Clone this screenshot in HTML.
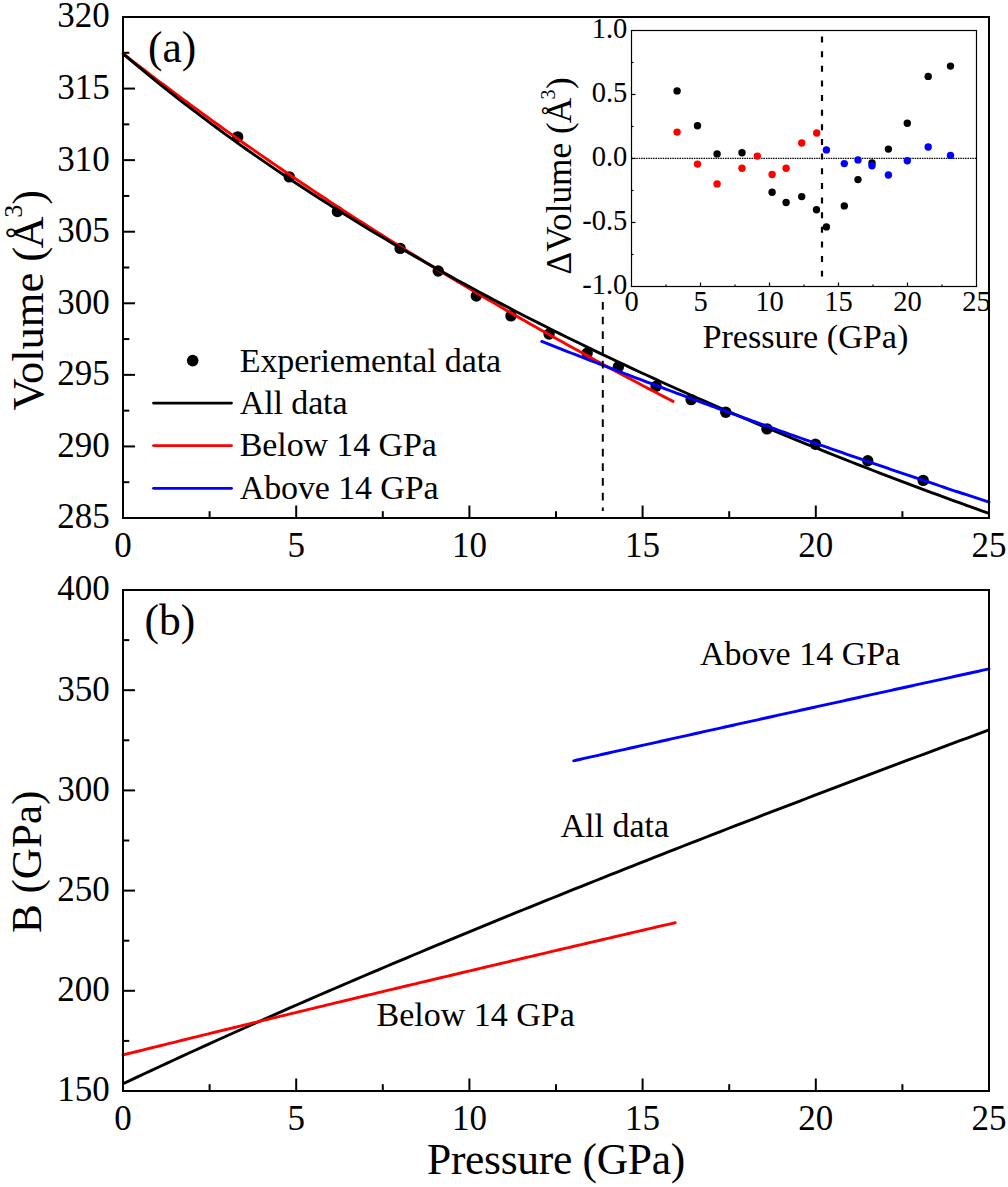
<!DOCTYPE html>
<html><head><meta charset="utf-8"><style>html,body{margin:0;padding:0;background:#fff;width:1008px;height:1187px;overflow:hidden}svg{display:block}text{fill:#000}</style></head>
<body><svg width="1008" height="1187" viewBox="0 0 1008 1187"><rect x="123.0" y="17.0" width="866.0" height="501.0" fill="none" stroke="#000" stroke-width="2"/>
<rect x="123.0" y="590.0" width="866.0" height="501.0" fill="none" stroke="#000" stroke-width="2"/>
<text x="123.00" y="556.8" font-family="'Liberation Serif', serif" font-size="35" text-anchor="middle">0</text>
<line x1="209.60" y1="518.0" x2="209.60" y2="511.2" stroke="#000" stroke-width="2"/>
<line x1="296.20" y1="518.0" x2="296.20" y2="505.5" stroke="#000" stroke-width="2"/>
<text x="296.20" y="556.8" font-family="'Liberation Serif', serif" font-size="35" text-anchor="middle">5</text>
<line x1="382.80" y1="518.0" x2="382.80" y2="511.2" stroke="#000" stroke-width="2"/>
<line x1="469.40" y1="518.0" x2="469.40" y2="505.5" stroke="#000" stroke-width="2"/>
<text x="469.40" y="556.8" font-family="'Liberation Serif', serif" font-size="35" text-anchor="middle">10</text>
<line x1="556.00" y1="518.0" x2="556.00" y2="511.2" stroke="#000" stroke-width="2"/>
<line x1="642.60" y1="518.0" x2="642.60" y2="505.5" stroke="#000" stroke-width="2"/>
<text x="642.60" y="556.8" font-family="'Liberation Serif', serif" font-size="35" text-anchor="middle">15</text>
<line x1="729.20" y1="518.0" x2="729.20" y2="511.2" stroke="#000" stroke-width="2"/>
<line x1="815.80" y1="518.0" x2="815.80" y2="505.5" stroke="#000" stroke-width="2"/>
<text x="815.80" y="556.8" font-family="'Liberation Serif', serif" font-size="35" text-anchor="middle">20</text>
<line x1="902.40" y1="518.0" x2="902.40" y2="511.2" stroke="#000" stroke-width="2"/>
<text x="989.00" y="556.8" font-family="'Liberation Serif', serif" font-size="35" text-anchor="middle">25</text>
<text x="123.00" y="1129.8" font-family="'Liberation Serif', serif" font-size="35" text-anchor="middle">0</text>
<line x1="209.60" y1="1091.0" x2="209.60" y2="1084.2" stroke="#000" stroke-width="2"/>
<line x1="296.20" y1="1091.0" x2="296.20" y2="1078.5" stroke="#000" stroke-width="2"/>
<text x="296.20" y="1129.8" font-family="'Liberation Serif', serif" font-size="35" text-anchor="middle">5</text>
<line x1="382.80" y1="1091.0" x2="382.80" y2="1084.2" stroke="#000" stroke-width="2"/>
<line x1="469.40" y1="1091.0" x2="469.40" y2="1078.5" stroke="#000" stroke-width="2"/>
<text x="469.40" y="1129.8" font-family="'Liberation Serif', serif" font-size="35" text-anchor="middle">10</text>
<line x1="556.00" y1="1091.0" x2="556.00" y2="1084.2" stroke="#000" stroke-width="2"/>
<line x1="642.60" y1="1091.0" x2="642.60" y2="1078.5" stroke="#000" stroke-width="2"/>
<text x="642.60" y="1129.8" font-family="'Liberation Serif', serif" font-size="35" text-anchor="middle">15</text>
<line x1="729.20" y1="1091.0" x2="729.20" y2="1084.2" stroke="#000" stroke-width="2"/>
<line x1="815.80" y1="1091.0" x2="815.80" y2="1078.5" stroke="#000" stroke-width="2"/>
<text x="815.80" y="1129.8" font-family="'Liberation Serif', serif" font-size="35" text-anchor="middle">20</text>
<line x1="902.40" y1="1091.0" x2="902.40" y2="1084.2" stroke="#000" stroke-width="2"/>
<text x="989.00" y="1129.8" font-family="'Liberation Serif', serif" font-size="35" text-anchor="middle">25</text>
<text x="109.8" y="528.40" font-family="'Liberation Serif', serif" font-size="35" text-anchor="end">285</text>
<line x1="123.0" y1="482.21" x2="129.3" y2="482.21" stroke="#000" stroke-width="2"/>
<line x1="123.0" y1="446.43" x2="135.0" y2="446.43" stroke="#000" stroke-width="2"/>
<text x="109.8" y="456.83" font-family="'Liberation Serif', serif" font-size="35" text-anchor="end">290</text>
<line x1="123.0" y1="410.64" x2="129.3" y2="410.64" stroke="#000" stroke-width="2"/>
<line x1="123.0" y1="374.86" x2="135.0" y2="374.86" stroke="#000" stroke-width="2"/>
<text x="109.8" y="385.26" font-family="'Liberation Serif', serif" font-size="35" text-anchor="end">295</text>
<line x1="123.0" y1="339.07" x2="129.3" y2="339.07" stroke="#000" stroke-width="2"/>
<line x1="123.0" y1="303.29" x2="135.0" y2="303.29" stroke="#000" stroke-width="2"/>
<text x="109.8" y="313.69" font-family="'Liberation Serif', serif" font-size="35" text-anchor="end">300</text>
<line x1="123.0" y1="267.50" x2="129.3" y2="267.50" stroke="#000" stroke-width="2"/>
<line x1="123.0" y1="231.71" x2="135.0" y2="231.71" stroke="#000" stroke-width="2"/>
<text x="109.8" y="242.11" font-family="'Liberation Serif', serif" font-size="35" text-anchor="end">305</text>
<line x1="123.0" y1="195.93" x2="129.3" y2="195.93" stroke="#000" stroke-width="2"/>
<line x1="123.0" y1="160.14" x2="135.0" y2="160.14" stroke="#000" stroke-width="2"/>
<text x="109.8" y="170.54" font-family="'Liberation Serif', serif" font-size="35" text-anchor="end">310</text>
<line x1="123.0" y1="124.36" x2="129.3" y2="124.36" stroke="#000" stroke-width="2"/>
<line x1="123.0" y1="88.57" x2="135.0" y2="88.57" stroke="#000" stroke-width="2"/>
<text x="109.8" y="98.97" font-family="'Liberation Serif', serif" font-size="35" text-anchor="end">315</text>
<line x1="123.0" y1="52.79" x2="129.3" y2="52.79" stroke="#000" stroke-width="2"/>
<text x="109.8" y="27.40" font-family="'Liberation Serif', serif" font-size="35" text-anchor="end">320</text>
<text x="109.8" y="1101.40" font-family="'Liberation Serif', serif" font-size="35" text-anchor="end">150</text>
<line x1="123.0" y1="1040.90" x2="129.3" y2="1040.90" stroke="#000" stroke-width="2"/>
<line x1="123.0" y1="990.80" x2="135.0" y2="990.80" stroke="#000" stroke-width="2"/>
<text x="109.8" y="1001.20" font-family="'Liberation Serif', serif" font-size="35" text-anchor="end">200</text>
<line x1="123.0" y1="940.70" x2="129.3" y2="940.70" stroke="#000" stroke-width="2"/>
<line x1="123.0" y1="890.60" x2="135.0" y2="890.60" stroke="#000" stroke-width="2"/>
<text x="109.8" y="901.00" font-family="'Liberation Serif', serif" font-size="35" text-anchor="end">250</text>
<line x1="123.0" y1="840.50" x2="129.3" y2="840.50" stroke="#000" stroke-width="2"/>
<line x1="123.0" y1="790.40" x2="135.0" y2="790.40" stroke="#000" stroke-width="2"/>
<text x="109.8" y="800.80" font-family="'Liberation Serif', serif" font-size="35" text-anchor="end">300</text>
<line x1="123.0" y1="740.30" x2="129.3" y2="740.30" stroke="#000" stroke-width="2"/>
<line x1="123.0" y1="690.20" x2="135.0" y2="690.20" stroke="#000" stroke-width="2"/>
<text x="109.8" y="700.60" font-family="'Liberation Serif', serif" font-size="35" text-anchor="end">350</text>
<line x1="123.0" y1="640.10" x2="129.3" y2="640.10" stroke="#000" stroke-width="2"/>
<text x="109.8" y="600.40" font-family="'Liberation Serif', serif" font-size="35" text-anchor="end">400</text>
<circle cx="237.66" cy="136.90" r="5.7" fill="#000"/>
<circle cx="289.27" cy="176.90" r="5.7" fill="#000"/>
<circle cx="337.42" cy="211.50" r="5.7" fill="#000"/>
<circle cx="400.12" cy="248.40" r="5.7" fill="#000"/>
<circle cx="438.22" cy="271.00" r="5.7" fill="#000"/>
<circle cx="476.33" cy="296.00" r="5.7" fill="#000"/>
<circle cx="510.97" cy="315.90" r="5.7" fill="#000"/>
<circle cx="549.07" cy="334.00" r="5.7" fill="#000"/>
<circle cx="587.18" cy="353.10" r="5.7" fill="#000"/>
<circle cx="618.35" cy="366.90" r="5.7" fill="#000"/>
<circle cx="656.11" cy="386.20" r="5.7" fill="#000"/>
<circle cx="691.10" cy="399.60" r="5.7" fill="#000"/>
<circle cx="725.74" cy="412.20" r="5.7" fill="#000"/>
<circle cx="766.96" cy="428.90" r="5.7" fill="#000"/>
<circle cx="815.45" cy="444.30" r="5.7" fill="#000"/>
<circle cx="867.76" cy="460.70" r="5.7" fill="#000"/>
<circle cx="923.18" cy="480.40" r="5.7" fill="#000"/>
<path d="M123.00,53.64 L127.62,57.25 L132.25,60.83 L136.87,64.40 L141.49,67.96 L146.11,71.50 L150.74,75.03 L155.36,78.54 L159.98,82.04 L164.60,85.53 L169.23,89.00 L173.85,92.45 L178.47,95.90 L183.09,99.33 L187.72,102.74 L192.34,106.14 L196.96,109.53 L201.58,112.91 L206.21,116.27 L210.83,119.61 L215.45,122.95 L220.07,126.27 L224.70,129.58 L229.32,132.88 L233.94,136.16 L238.56,139.43 L243.19,142.69 L247.81,145.94 L252.43,149.17 L257.05,152.39 L261.68,155.60 L266.30,158.80 L270.92,161.99 L275.54,165.16 L280.17,168.32 L284.79,171.47 L289.41,174.61 L294.03,177.74 L298.66,180.86 L303.28,183.96 L307.90,187.05 L312.52,190.14 L317.15,193.21 L321.77,196.27 L326.39,199.32 L331.01,202.35 L335.64,205.38 L340.26,208.40 L344.88,211.40 L349.50,214.40 L354.13,217.38 L358.75,220.36 L363.37,223.32 L368.00,226.27 L372.62,229.22 L377.24,232.15 L381.86,235.07 L386.49,237.99 L391.11,240.89 L395.73,243.78 L400.35,246.67 L404.98,249.54 L409.60,252.40 L414.22,255.26 L418.84,258.10 L423.47,260.94 L428.09,263.76 L432.71,266.58 L437.33,269.39 L441.96,272.18 L446.58,274.97 L451.20,277.75 L455.82,280.52 L460.45,283.28 L465.07,286.04 L469.69,288.78 L474.31,291.51 L478.94,294.24 L483.56,296.96 L488.18,299.66 L492.80,302.36 L497.43,305.05 L502.05,307.74 L506.67,310.41 L511.29,313.08 L515.92,315.73 L520.54,318.38 L525.16,321.02 L529.78,323.65 L534.41,326.28 L539.03,328.89 L543.65,331.50 L548.27,334.10 L552.90,336.69 L557.52,339.28 L562.14,341.85 L566.76,344.42 L571.39,346.98 L576.01,349.53 L580.63,352.08 L585.25,354.61 L589.88,357.14 L594.50,359.66 L599.12,362.18 L603.74,364.69 L608.37,367.19 L612.99,369.68 L617.61,372.16 L622.24,374.64 L626.86,377.11 L631.48,379.57 L636.10,382.03 L640.73,384.47 L645.35,386.92 L649.97,389.35 L654.59,391.78 L659.22,394.20 L663.84,396.61 L668.46,399.02 L673.08,401.41" fill="none" stroke="#f00" stroke-width="2.9" stroke-linecap="round" stroke-linejoin="round"/>
<path d="M123.00,53.64 L130.28,59.82 L137.55,65.92 L144.83,71.95 L152.11,77.90 L159.39,83.78 L166.66,89.60 L173.94,95.35 L181.22,101.03 L188.50,106.65 L195.77,112.21 L203.05,117.71 L210.33,123.14 L217.61,128.52 L224.88,133.85 L232.16,139.12 L239.44,144.33 L246.71,149.49 L253.99,154.60 L261.27,159.66 L268.55,164.67 L275.82,169.64 L283.10,174.55 L290.38,179.42 L297.66,184.24 L304.93,189.02 L312.21,193.75 L319.49,198.44 L326.76,203.09 L334.04,207.70 L341.32,212.27 L348.60,216.80 L355.87,221.29 L363.15,225.74 L370.43,230.15 L377.71,234.53 L384.98,238.87 L392.26,243.17 L399.54,247.44 L406.82,251.68 L414.09,255.88 L421.37,260.04 L428.65,264.18 L435.92,268.28 L443.20,272.35 L450.48,276.39 L457.76,280.40 L465.03,284.38 L472.31,288.33 L479.59,292.25 L486.87,296.15 L494.14,300.01 L501.42,303.85 L508.70,307.65 L515.97,311.44 L523.25,315.19 L530.53,318.92 L537.81,322.62 L545.08,326.30 L552.36,329.95 L559.64,333.58 L566.92,337.18 L574.19,340.76 L581.47,344.32 L588.75,347.85 L596.03,351.36 L603.30,354.84 L610.58,358.31 L617.86,361.75 L625.13,365.17 L632.41,368.57 L639.69,371.95 L646.97,375.30 L654.24,378.64 L661.52,381.95 L668.80,385.25 L676.08,388.52 L683.35,391.78 L690.63,395.01 L697.91,398.23 L705.18,401.43 L712.46,404.61 L719.74,407.77 L727.02,410.91 L734.29,414.03 L741.57,417.14 L748.85,420.23 L756.13,423.30 L763.40,426.35 L770.68,429.39 L777.96,432.41 L785.24,435.41 L792.51,438.40 L799.79,441.37 L807.07,444.33 L814.34,447.27 L821.62,450.19 L828.90,453.10 L836.18,455.99 L843.45,458.87 L850.73,461.73 L858.01,464.58 L865.29,467.41 L872.56,470.23 L879.84,473.03 L887.12,475.82 L894.39,478.59 L901.67,481.36 L908.95,484.10 L916.23,486.84 L923.50,489.56 L930.78,492.27 L938.06,494.96 L945.34,497.64 L952.61,500.31 L959.89,502.96 L967.17,505.60 L974.45,508.23 L981.72,510.85 L989.00,513.46" fill="none" stroke="#000" stroke-width="2.9" stroke-linejoin="round"/>
<path d="M541.80,341.47 L545.56,342.95 L549.31,344.43 L553.07,345.91 L556.83,347.39 L560.59,348.86 L564.35,350.33 L568.10,351.80 L571.86,353.26 L575.62,354.72 L579.38,356.18 L583.14,357.64 L586.89,359.10 L590.65,360.55 L594.41,362.00 L598.17,363.45 L601.93,364.89 L605.68,366.34 L609.44,367.78 L613.20,369.21 L616.96,370.65 L620.72,372.08 L624.47,373.52 L628.23,374.94 L631.99,376.37 L635.75,377.79 L639.51,379.22 L643.26,380.64 L647.02,382.05 L650.78,383.47 L654.54,384.88 L658.30,386.29 L662.05,387.70 L665.81,389.10 L669.57,390.51 L673.33,391.91 L677.09,393.31 L680.84,394.71 L684.60,396.10 L688.36,397.49 L692.12,398.88 L695.88,400.27 L699.63,401.65 L703.39,403.04 L707.15,404.42 L710.91,405.80 L714.67,407.17 L718.42,408.55 L722.18,409.92 L725.94,411.29 L729.70,412.66 L733.46,414.03 L737.21,415.39 L740.97,416.75 L744.73,418.11 L748.49,419.47 L752.25,420.82 L756.00,422.17 L759.76,423.53 L763.52,424.87 L767.28,426.22 L771.04,427.57 L774.79,428.91 L778.55,430.25 L782.31,431.59 L786.07,432.92 L789.83,434.26 L793.58,435.59 L797.34,436.92 L801.10,438.25 L804.86,439.57 L808.62,440.90 L812.37,442.22 L816.13,443.54 L819.89,444.86 L823.65,446.17 L827.41,447.49 L831.16,448.80 L834.92,450.11 L838.68,451.42 L842.44,452.72 L846.20,454.03 L849.95,455.33 L853.71,456.63 L857.47,457.93 L861.23,459.22 L864.99,460.52 L868.74,461.81 L872.50,463.10 L876.26,464.39 L880.02,465.67 L883.78,466.96 L887.53,468.24 L891.29,469.52 L895.05,470.80 L898.81,472.08 L902.57,473.35 L906.32,474.63 L910.08,475.90 L913.84,477.17 L917.60,478.43 L921.36,479.70 L925.11,480.96 L928.87,482.23 L932.63,483.49 L936.39,484.74 L940.15,486.00 L943.90,487.25 L947.66,488.51 L951.42,489.76 L955.18,491.01 L958.94,492.25 L962.69,493.50 L966.45,494.74 L970.21,495.99 L973.97,497.23 L977.73,498.46 L981.48,499.70 L985.24,500.93 L989.00,502.17" fill="none" stroke="#00f" stroke-width="2.9" stroke-linecap="round" stroke-linejoin="round"/>
<line x1="602.8" y1="302" x2="602.8" y2="511" stroke="#000" stroke-width="2" stroke-dasharray="7.7 6.97"/>
<circle cx="192.7" cy="360.6" r="5.8" fill="#000"/>
<line x1="153.5" y1="403.1" x2="231.5" y2="403.1" stroke="#000" stroke-width="2.8" stroke-linecap="round"/>
<line x1="153.5" y1="445.6" x2="231.5" y2="445.6" stroke="#f00" stroke-width="2.8" stroke-linecap="round"/>
<line x1="153.5" y1="488.3" x2="231.5" y2="488.3" stroke="#00f" stroke-width="2.8" stroke-linecap="round"/>
<text x="239.8" y="371.7" font-family="'Liberation Serif', serif" font-size="34" letter-spacing="-0.12">Experiemental data</text>
<text x="239.8" y="414.0" font-family="'Liberation Serif', serif" font-size="34" letter-spacing="-0.12">All data</text>
<text x="239.8" y="456.4" font-family="'Liberation Serif', serif" font-size="34" letter-spacing="-0.12">Below 14 GPa</text>
<text x="239.8" y="498.8" font-family="'Liberation Serif', serif" font-size="34" letter-spacing="-0.12">Above 14 GPa</text>
<text x="148" y="61.5" font-family="'Liberation Serif', serif" font-size="43.5">(a)</text>
<text x="144.5" y="635" font-family="'Liberation Serif', serif" font-size="43.5">(b)</text>
<rect x="631.5" y="30.5" width="345.0" height="256.0" fill="#fff" stroke="#000" stroke-width="1.2"/>
<line x1="666.00" y1="286.5" x2="666.00" y2="284.5" stroke="#000" stroke-width="1.2"/>
<line x1="700.50" y1="286.5" x2="700.50" y2="282.5" stroke="#000" stroke-width="1.2"/>
<line x1="735.00" y1="286.5" x2="735.00" y2="284.5" stroke="#000" stroke-width="1.2"/>
<line x1="769.50" y1="286.5" x2="769.50" y2="282.5" stroke="#000" stroke-width="1.2"/>
<line x1="804.00" y1="286.5" x2="804.00" y2="284.5" stroke="#000" stroke-width="1.2"/>
<line x1="838.50" y1="286.5" x2="838.50" y2="282.5" stroke="#000" stroke-width="1.2"/>
<line x1="873.00" y1="286.5" x2="873.00" y2="284.5" stroke="#000" stroke-width="1.2"/>
<line x1="907.50" y1="286.5" x2="907.50" y2="282.5" stroke="#000" stroke-width="1.2"/>
<line x1="942.00" y1="286.5" x2="942.00" y2="284.5" stroke="#000" stroke-width="1.2"/>
<line x1="631.5" y1="62.50" x2="633.5" y2="62.50" stroke="#000" stroke-width="1.2"/>
<line x1="631.5" y1="94.50" x2="635.5" y2="94.50" stroke="#000" stroke-width="1.2"/>
<line x1="631.5" y1="126.50" x2="633.5" y2="126.50" stroke="#000" stroke-width="1.2"/>
<line x1="631.5" y1="158.50" x2="635.5" y2="158.50" stroke="#000" stroke-width="1.2"/>
<line x1="631.5" y1="190.50" x2="633.5" y2="190.50" stroke="#000" stroke-width="1.2"/>
<line x1="631.5" y1="222.50" x2="635.5" y2="222.50" stroke="#000" stroke-width="1.2"/>
<line x1="631.5" y1="254.50" x2="633.5" y2="254.50" stroke="#000" stroke-width="1.2"/>
<text x="631.50" y="310.8" font-family="'Liberation Serif', serif" font-size="28.5" text-anchor="middle">0</text>
<text x="700.50" y="310.8" font-family="'Liberation Serif', serif" font-size="28.5" text-anchor="middle">5</text>
<text x="769.50" y="310.8" font-family="'Liberation Serif', serif" font-size="28.5" text-anchor="middle">10</text>
<text x="838.50" y="310.8" font-family="'Liberation Serif', serif" font-size="28.5" text-anchor="middle">15</text>
<text x="907.50" y="310.8" font-family="'Liberation Serif', serif" font-size="28.5" text-anchor="middle">20</text>
<text x="976.50" y="310.8" font-family="'Liberation Serif', serif" font-size="28.5" text-anchor="middle">25</text>
<text x="627.3" y="38.30" font-family="'Liberation Serif', serif" font-size="28.5" text-anchor="end">1.0</text>
<text x="627.3" y="102.30" font-family="'Liberation Serif', serif" font-size="28.5" text-anchor="end">0.5</text>
<text x="627.3" y="166.30" font-family="'Liberation Serif', serif" font-size="28.5" text-anchor="end">0.0</text>
<text x="627.3" y="230.30" font-family="'Liberation Serif', serif" font-size="28.5" text-anchor="end">-0.5</text>
<text x="627.3" y="294.30" font-family="'Liberation Serif', serif" font-size="28.5" text-anchor="end">-1.0</text>
<line x1="631.5" y1="158.4" x2="976.5" y2="158.4" stroke="#000" stroke-width="1.4" stroke-dasharray="1.5 0.9"/>
<line x1="822" y1="36.5" x2="822" y2="276.5" stroke="#000" stroke-width="2.2" stroke-dasharray="6 8.64"/>
<circle cx="677.1" cy="90.9" r="3.7" fill="#000"/>
<circle cx="697.5" cy="125.7" r="3.7" fill="#000"/>
<circle cx="717.1" cy="153.9" r="3.7" fill="#000"/>
<circle cx="742" cy="152.7" r="3.7" fill="#000"/>
<circle cx="772.1" cy="192.3" r="3.7" fill="#000"/>
<circle cx="786.1" cy="202.5" r="3.7" fill="#000"/>
<circle cx="801.7" cy="196.6" r="3.7" fill="#000"/>
<circle cx="816.5" cy="209.8" r="3.7" fill="#000"/>
<circle cx="826.4" cy="226.9" r="3.7" fill="#000"/>
<circle cx="844.3" cy="205.9" r="3.7" fill="#000"/>
<circle cx="858" cy="179.6" r="3.7" fill="#000"/>
<circle cx="872" cy="162.9" r="3.7" fill="#000"/>
<circle cx="888.4" cy="149.1" r="3.7" fill="#000"/>
<circle cx="907.3" cy="123.2" r="3.7" fill="#000"/>
<circle cx="928.2" cy="76.4" r="3.7" fill="#000"/>
<circle cx="950.5" cy="66.1" r="3.7" fill="#000"/>
<circle cx="677.1" cy="132.1" r="3.7" fill="#f00"/>
<circle cx="697.5" cy="164.1" r="3.7" fill="#f00"/>
<circle cx="717.1" cy="183.9" r="3.7" fill="#f00"/>
<circle cx="742" cy="168.2" r="3.7" fill="#f00"/>
<circle cx="757.3" cy="156.1" r="3.7" fill="#f00"/>
<circle cx="772.1" cy="174.5" r="3.7" fill="#f00"/>
<circle cx="786.1" cy="168.2" r="3.7" fill="#f00"/>
<circle cx="801.7" cy="143" r="3.7" fill="#f00"/>
<circle cx="816.7" cy="133" r="3.7" fill="#f00"/>
<circle cx="826.4" cy="149.9" r="3.7" fill="#00f"/>
<circle cx="844.3" cy="163.6" r="3.7" fill="#00f"/>
<circle cx="858" cy="159.9" r="3.7" fill="#00f"/>
<circle cx="872" cy="165.7" r="3.7" fill="#00f"/>
<circle cx="888.4" cy="175" r="3.7" fill="#00f"/>
<circle cx="907.3" cy="160.7" r="3.7" fill="#00f"/>
<circle cx="928.2" cy="147" r="3.7" fill="#00f"/>
<circle cx="950.5" cy="155.4" r="3.7" fill="#00f"/>
<text x="702.4" y="348.2" font-family="'Liberation Serif', serif" font-size="34.2">Pressure (GPa)</text>
<g transform="translate(570.5,274.5) rotate(-90)"><text x="0" y="0" font-family="'Liberation Serif', serif" font-size="35.25">&#916;Volume (<tspan dx="-1">&#197;</tspan><tspan font-size="20" dy="-16" dx="-1.8">3</tspan><tspan dy="16" dx="0.5">)</tspan></text></g>
<path d="M123.00,1083.79 L130.28,1080.34 L137.55,1076.91 L144.83,1073.49 L152.11,1070.09 L159.39,1066.70 L166.66,1063.33 L173.94,1059.96 L181.22,1056.61 L188.50,1053.27 L195.77,1049.95 L203.05,1046.63 L210.33,1043.33 L217.61,1040.04 L224.88,1036.76 L232.16,1033.49 L239.44,1030.23 L246.71,1026.98 L253.99,1023.74 L261.27,1020.52 L268.55,1017.30 L275.82,1014.09 L283.10,1010.89 L290.38,1007.70 L297.66,1004.52 L304.93,1001.35 L312.21,998.19 L319.49,995.03 L326.76,991.89 L334.04,988.75 L341.32,985.62 L348.60,982.50 L355.87,979.39 L363.15,976.28 L370.43,973.19 L377.71,970.10 L384.98,967.02 L392.26,963.94 L399.54,960.87 L406.82,957.81 L414.09,954.76 L421.37,951.72 L428.65,948.68 L435.92,945.65 L443.20,942.62 L450.48,939.60 L457.76,936.59 L465.03,933.58 L472.31,930.58 L479.59,927.59 L486.87,924.60 L494.14,921.62 L501.42,918.65 L508.70,915.68 L515.97,912.71 L523.25,909.76 L530.53,906.80 L537.81,903.86 L545.08,900.92 L552.36,897.98 L559.64,895.05 L566.92,892.13 L574.19,889.21 L581.47,886.29 L588.75,883.38 L596.03,880.48 L603.30,877.58 L610.58,874.69 L617.86,871.80 L625.13,868.91 L632.41,866.04 L639.69,863.16 L646.97,860.29 L654.24,857.43 L661.52,854.57 L668.80,851.71 L676.08,848.86 L683.35,846.01 L690.63,843.17 L697.91,840.33 L705.18,837.50 L712.46,834.67 L719.74,831.84 L727.02,829.02 L734.29,826.20 L741.57,823.39 L748.85,820.58 L756.13,817.78 L763.40,814.97 L770.68,812.18 L777.96,809.38 L785.24,806.59 L792.51,803.81 L799.79,801.03 L807.07,798.25 L814.34,795.47 L821.62,792.70 L828.90,789.94 L836.18,787.17 L843.45,784.41 L850.73,781.66 L858.01,778.91 L865.29,776.16 L872.56,773.41 L879.84,770.67 L887.12,767.93 L894.39,765.19 L901.67,762.46 L908.95,759.73 L916.23,757.01 L923.50,754.28 L930.78,751.56 L938.06,748.85 L945.34,746.14 L952.61,743.43 L959.89,740.72 L967.17,738.02 L974.45,735.32 L981.72,732.62 L989.00,729.92" fill="none" stroke="#000" stroke-width="2.9" stroke-linejoin="round"/>
<path d="M123.00,1054.93 L127.64,1053.77 L132.28,1052.62 L136.92,1051.47 L141.56,1050.32 L146.20,1049.17 L150.84,1048.02 L155.48,1046.87 L160.12,1045.72 L164.76,1044.58 L169.40,1043.43 L174.04,1042.29 L178.68,1041.14 L183.32,1040.00 L187.96,1038.86 L192.60,1037.71 L197.24,1036.57 L201.88,1035.43 L206.52,1034.29 L211.16,1033.16 L215.80,1032.02 L220.44,1030.88 L225.08,1029.75 L229.72,1028.61 L234.36,1027.48 L239.00,1026.34 L243.64,1025.21 L248.28,1024.08 L252.92,1022.95 L257.56,1021.82 L262.20,1020.69 L266.84,1019.56 L271.48,1018.43 L276.12,1017.30 L280.76,1016.17 L285.40,1015.05 L290.04,1013.92 L294.68,1012.80 L299.32,1011.67 L303.96,1010.55 L308.60,1009.43 L313.24,1008.31 L317.88,1007.19 L322.52,1006.07 L327.16,1004.95 L331.80,1003.83 L336.44,1002.71 L341.08,1001.59 L345.72,1000.48 L350.36,999.36 L355.00,998.24 L359.64,997.13 L364.28,996.02 L368.92,994.90 L373.56,993.79 L378.20,992.68 L382.84,991.57 L387.48,990.45 L392.12,989.34 L396.76,988.24 L401.40,987.13 L406.04,986.02 L410.68,984.91 L415.32,983.80 L419.96,982.70 L424.60,981.59 L429.24,980.49 L433.88,979.38 L438.52,978.28 L443.16,977.17 L447.80,976.07 L452.44,974.97 L457.08,973.87 L461.72,972.77 L466.36,971.67 L471.00,970.57 L475.64,969.47 L480.28,968.37 L484.92,967.27 L489.56,966.17 L494.20,965.08 L498.84,963.98 L503.48,962.89 L508.12,961.79 L512.76,960.70 L517.40,959.60 L522.04,958.51 L526.68,957.42 L531.32,956.32 L535.96,955.23 L540.60,954.14 L545.24,953.05 L549.88,951.96 L554.52,950.87 L559.16,949.78 L563.80,948.69 L568.44,947.61 L573.08,946.52 L577.72,945.43 L582.36,944.35 L587.00,943.26 L591.64,942.17 L596.28,941.09 L600.92,940.00 L605.56,938.92 L610.20,937.84 L614.84,936.76 L619.48,935.67 L624.12,934.59 L628.76,933.51 L633.40,932.43 L638.04,931.35 L642.68,930.27 L647.32,929.19 L651.96,928.11 L656.60,927.03 L661.24,925.96 L665.88,924.88 L670.52,923.80 L675.16,922.72" fill="none" stroke="#f00" stroke-width="2.9" stroke-linecap="round" stroke-linejoin="round"/>
<path d="M573.67,760.80 L577.16,760.01 L580.65,759.23 L584.14,758.45 L587.63,757.67 L591.12,756.88 L594.61,756.10 L598.10,755.32 L601.59,754.54 L605.08,753.75 L608.57,752.97 L612.06,752.19 L615.55,751.41 L619.04,750.63 L622.53,749.85 L626.02,749.07 L629.51,748.29 L633.00,747.51 L636.49,746.73 L639.98,745.95 L643.47,745.17 L646.96,744.39 L650.45,743.61 L653.94,742.83 L657.43,742.05 L660.92,741.27 L664.41,740.49 L667.90,739.72 L671.39,738.94 L674.88,738.16 L678.37,737.38 L681.86,736.60 L685.35,735.83 L688.84,735.05 L692.33,734.27 L695.82,733.50 L699.31,732.72 L702.80,731.94 L706.29,731.17 L709.78,730.39 L713.27,729.62 L716.76,728.84 L720.25,728.07 L723.74,727.29 L727.24,726.52 L730.73,725.74 L734.22,724.97 L737.71,724.19 L741.20,723.42 L744.69,722.64 L748.18,721.87 L751.67,721.10 L755.16,720.32 L758.65,719.55 L762.14,718.78 L765.63,718.01 L769.12,717.23 L772.61,716.46 L776.10,715.69 L779.59,714.92 L783.08,714.14 L786.57,713.37 L790.06,712.60 L793.55,711.83 L797.04,711.06 L800.53,710.29 L804.02,709.52 L807.51,708.75 L811.00,707.98 L814.49,707.21 L817.98,706.44 L821.47,705.67 L824.96,704.90 L828.45,704.13 L831.94,703.36 L835.43,702.59 L838.92,701.82 L842.41,701.05 L845.90,700.28 L849.39,699.51 L852.88,698.75 L856.37,697.98 L859.86,697.21 L863.35,696.44 L866.84,695.68 L870.33,694.91 L873.82,694.14 L877.31,693.37 L880.80,692.61 L884.29,691.84 L887.78,691.07 L891.27,690.31 L894.76,689.54 L898.25,688.78 L901.75,688.01 L905.24,687.24 L908.73,686.48 L912.22,685.71 L915.71,684.95 L919.20,684.18 L922.69,683.42 L926.18,682.65 L929.67,681.89 L933.16,681.13 L936.65,680.36 L940.14,679.60 L943.63,678.83 L947.12,678.07 L950.61,677.31 L954.10,676.54 L957.59,675.78 L961.08,675.02 L964.57,674.26 L968.06,673.49 L971.55,672.73 L975.04,671.97 L978.53,671.21 L982.02,670.44 L985.51,669.68 L989.00,668.92" fill="none" stroke="#00f" stroke-width="2.9" stroke-linecap="round" stroke-linejoin="round"/>
<text x="700" y="664.9" font-family="'Liberation Serif', serif" font-size="34">Above 14 GPa</text>
<text x="560.5" y="836.8" font-family="'Liberation Serif', serif" font-size="34">All data</text>
<text x="376.5" y="1026.2" font-family="'Liberation Serif', serif" font-size="34">Below 14 GPa</text>
<rect x="123.0" y="17.0" width="866.0" height="501.0" fill="none" stroke="#000" stroke-width="2"/>
<rect x="123.0" y="590.0" width="866.0" height="501.0" fill="none" stroke="#000" stroke-width="2"/>
<text x="427" y="1173.8" font-family="'Liberation Serif', serif" font-size="43.5" letter-spacing="-0.3">Pressure (GPa)</text>
<g transform="translate(43,410.5) rotate(-90)"><text x="0" y="0" font-family="'Liberation Serif', serif" font-size="44.5">Volume (<tspan dx="-1.5">&#197;</tspan><tspan font-size="26" dy="-21.4" dx="-1.5">3</tspan><tspan dy="21.4" dx="0">)</tspan></text></g>
<g transform="translate(41,933) rotate(-90)"><text x="0" y="0" font-family="'Liberation Serif', serif" font-size="43.1">B (GPa)</text></g></svg></body></html>
